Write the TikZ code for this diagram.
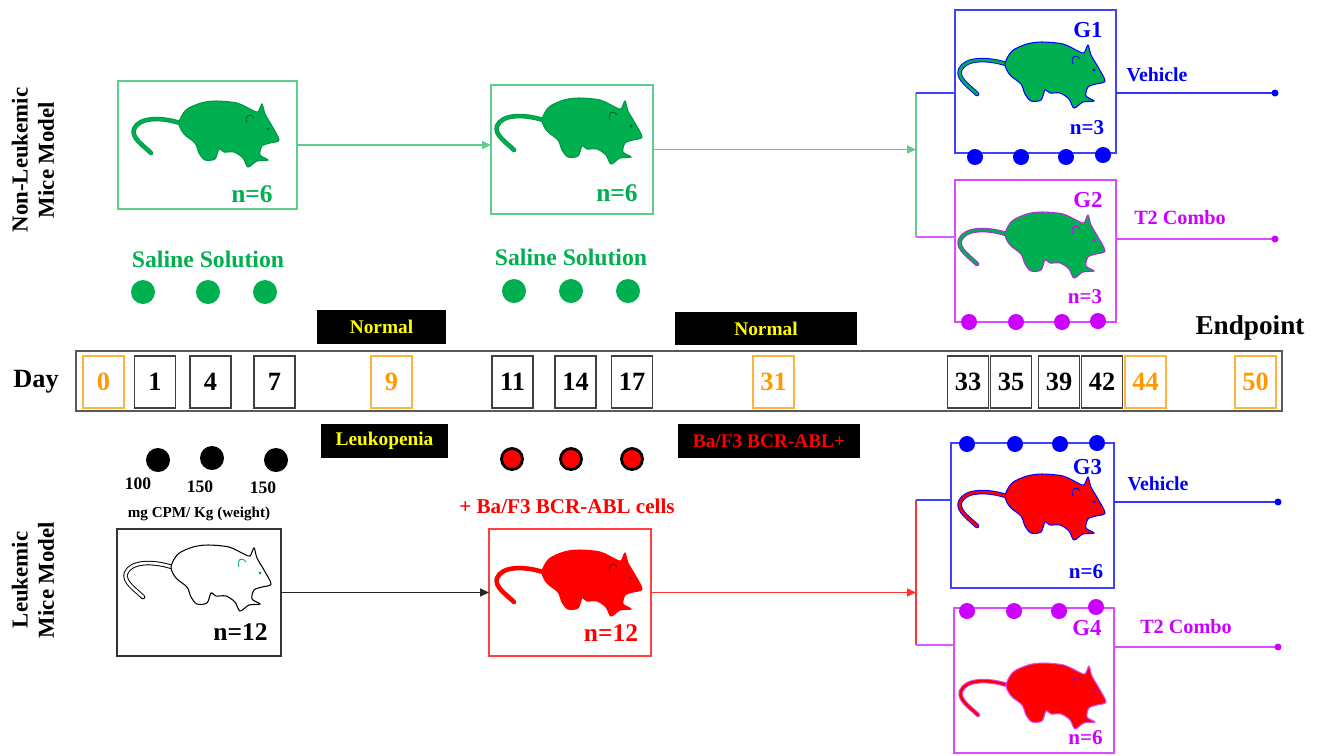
\documentclass[tikz,border=0pt]{standalone}
\usepackage{fontspec}
\setmainfont{Liberation Serif}
\usetikzlibrary{arrows.meta,positioning,calc}
\definecolor{micegreen}{RGB}{0,176,80}
\definecolor{lightgreen}{RGB}{96,204,140}
\definecolor{groupblue}{RGB}{0,0,255}
\definecolor{groupviolet}{RGB}{204,0,255}
\definecolor{dayorange}{RGB}{255,153,0}
\definecolor{labelyellow}{RGB}{255,255,0}

% tail of the mouse silhouette (drawn twice: outline, then fill colour)
\newcommand{\mousetail}{(-27,-8) .. controls (-46,-14) and (-68,-14) .. (-73,-2) .. controls (-76,7) and (-63,15) .. (-56,22)}

\tikzset{
  pics/mouse/.style n args={3}{code={
    \draw[#2, line width=2.6pt, line cap=round] \mousetail;
    \draw[#1, line width=1.5pt, line cap=round] \mousetail;
    \filldraw[fill=#1, draw=#2, line width=0.6pt] plot[smooth cycle, tension=0.5] coordinates {
      (-28,-8) (-21,-21) (-6,-28) (9,-30) (30,-28) (45,-21) (51,-19) (55,-27) (58,-17)
      (65,-5) (72,9) (63,12) (55,15) (53,24) (61,29) (50,30) (41,36) (36,27) (27,21)
      (17,21) (12,18) (8,28) (-2,29) (-8,22) (-12,12) (-23,3)};
    \draw[#3, line width=0.5pt] (47,-13) .. controls (43,-19) and (37,-15) .. (40,-8);
    \fill[#3] (61,-2) circle (1.6);
  }},
}

\begin{document}
\begin{tikzpicture}[x=0.02cm, y=-0.02cm,
    every node/.style={font=\bfseries},
    txt/.style={font=\fontsize{#1}{15}\selectfont\bfseries},
    cage/.style={draw=#1, line width=0.8pt, inner sep=0pt, outer sep=0pt},
    daybox/.style={draw=#1!75, text=#1, line width=0.7pt, minimum width=0.82cm, minimum height=1.04cm, inner sep=0pt, txt=15},
    phase/.style={fill=black, text=labelyellow, minimum height=0.67cm, inner sep=0pt, txt=11},
    link/.style={line width=0.75pt},
    tip/.style={-{Triangle[length=5pt,width=4.5pt]}}]
    \fill[white] (0,0) rectangle (1318,755);
    \useasboundingbox (0,0) rectangle (1318,755);

    % model titles
    \node[txt=13, rotate=90, align=center] (nonleuk) at (33,160) {Non-Leukemic\\Mice Model};
    \node[txt=13, rotate=90, align=center] (leuk) at (33,580) {Leukemic\\Mice Model};

    % non-leukemic mice
    \node[cage=lightgreen, minimum width=3.58cm, minimum height=2.56cm] (a1) at (207.5,145) {};
    \pic at (207,131) {mouse={micegreen}{micegreen!85!black}{micegreen!60!black}};
    \node[txt=14.5, text=micegreen] (a1n) at (252,194) {n=6};

    \node[cage=lightgreen, minimum width=3.24cm, minimum height=2.58cm] (a2) at (572,149.5) {};
    \pic at (570,128) {mouse={micegreen}{micegreen!85!black}{micegreen!60!black}};
    \node[txt=14.5, text=micegreen] (a2n) at (617,193) {n=6};

    \node[cage=groupblue!75, minimum width=3.22cm, minimum height=2.86cm] (g1) at (1035.5,81.5) {};
    \pic at (1033,72) {mouse={micegreen}{groupblue}{groupblue}};
    \node[txt=13, text=groupblue] (g1t) at (1088,30) {G1};
    \node[txt=12, text=groupblue] (g1n) at (1087,128) {n=3};
    \foreach \x/\y in {975/157,1021/157,1066/157,1103/155} \fill[groupblue] (\x,\y) circle (8);

    \node[cage=groupviolet!70, minimum width=3.22cm, minimum height=2.84cm] (g2) at (1035.5,251) {};
    \pic at (1033,242) {mouse={micegreen}{groupviolet!70!gray}{groupviolet}};
    \node[txt=13, text=groupviolet] (g2t) at (1088,200) {G2};
    \node[txt=12, text=groupviolet] (g2n) at (1085,297) {n=3};
    \foreach \x/\y in {969/322,1016/322,1062/322,1098/321} \fill[groupviolet] (\x,\y) circle (8);

    % saline injections
    \node[txt=13.5, text=micegreen] (sal1) at (208,259) {Saline Solution};
    \node[txt=13.5, text=micegreen] (sal2) at (571,257) {Saline Solution};
    \foreach \x in {143,208,265} \fill[micegreen] (\x,292) circle (12);
    \foreach \x in {514,571,628} \fill[micegreen] (\x,291) circle (12);

    % phases
    \node[phase, minimum width=2.58cm] (norm1) at (381.5,327) {Normal};
    \node[phase, minimum width=3.64cm] (norm2) at (766,328.5) {Normal};
    \node[phase, minimum width=2.54cm] (leukop) at (384.5,441) {Leukopenia};
    \node[phase, minimum width=3.64cm, text=red] (baf3) at (769,441) {Ba/F3 BCR-ABL+};

    % time line
    \node[txt=15] (day) at (36,382) {Day};
    \node[draw=black!65, line width=0.8pt, minimum width=24.12cm, minimum height=1.2cm, inner sep=0pt] (timeline) at (679,381) {};
    \foreach \x/\d/\c in {103.5/0/dayorange, 155/1/black, 210.5/4/black, 274.5/7/black, 391.5/9/dayorange,
        512.5/11/black, 575.5/14/black, 632/17/black, 773.5/31/dayorange, 968/33/black,
        1011/35/black, 1059/39/black, 1102/42/black, 1145.5/44/dayorange, 1255.5/50/dayorange}
      \node[daybox=\c] (d\d) at (\x,382) {\d};
    \node[txt=15.5] (endpoint) at (1250,328) {Endpoint};

    % cyclophosphamide and cell injections
    \foreach \x/\y in {158/460,212/458,276/460} \fill (\x,\y) circle (12);
    \node[txt=10] (dose1) at (138,484) {100};
    \node[txt=10] (dose2) at (200,487) {150};
    \node[txt=10] (dose3) at (263,488) {150};
    \node[txt=8.6] (units) at (199,514) {mg CPM/ Kg (weight)};
    \foreach \x in {512,571,632} \filldraw[fill=red, draw=black, line width=1.6pt] (\x,459) circle (10.5);
    \node[txt=12, text=red] (cells) at (567,506) {+ Ba/F3 BCR-ABL cells};

    % leukemic mice
    \node[cage=black!80, minimum width=3.28cm, minimum height=2.54cm] (b1) at (199,592.5) {};
    \pic at (199,575) {mouse={white}{black}{micegreen}};
    \node[txt=14.5] (b1n) at (240.5,632) {n=12};

    \node[cage=red!75, minimum width=3.24cm, minimum height=2.54cm] (b2) at (570,592.5) {};
    \pic at (570,580) {mouse={red}{red}{red!60!black}};
    \node[txt=14.5, text=red] (b2n) at (611,633) {n=12};

    \node[cage=groupblue!75, minimum width=3.26cm, minimum height=2.9cm] (g3) at (1032.5,515.5) {};
    \pic at (1033,504) {mouse={red}{groupblue}{groupblue}};
    \node[txt=13, text=groupblue] (g3t) at (1087.5,467) {G3};
    \node[txt=12, text=groupblue] (g3n) at (1086,572) {n=6};
    \foreach \x/\y in {967/444,1015/444,1060/444,1097/443} \fill[groupblue] (\x,\y) circle (8);

    \node[cage=groupviolet!70, minimum width=3.2cm, minimum height=2.9cm] (g4) at (1034,680.5) {};
    \pic at (1034,693) {mouse={red}{groupviolet!70}{groupviolet!60!blue}};
    \node[txt=13, text=groupviolet] (g4t) at (1087,628) {G4};
    \node[txt=12, text=groupviolet] (g4n) at (1085.5,738) {n=6};
    \foreach \x/\y in {967/611,1014/611,1059/611,1096/607} \fill[groupviolet] (\x,\y) circle (8);

    % treatments
    \node[txt=11.3, text=groupblue] (veh1) at (1157,75) {Vehicle};
    \node[txt=11.5, text=groupviolet] (combo1) at (1180,218) {T2 Combo};
    \node[txt=11.3, text=groupblue] (veh2) at (1158,484) {Vehicle};
    \node[txt=11.5, text=groupviolet] (combo2) at (1186,627) {T2 Combo};

    % connectors, upper branch
    \coordinate (ja) at (916,150);
    \coordinate (ja1) at (916,93);
    \coordinate (ja2) at (916,237);
    \draw[link, lightgreen, tip] (a1.east) -- (a1.east -| a2.west);
    \draw[link, lightgreen, tip] (a2.east) -- (a2.east -| ja);
    \draw[link, lightgreen] (ja1) -- (ja2);
    \draw[link, groupblue!75] (ja1) -- (ja1 -| g1.west);
    \draw[link, groupviolet!65] (ja2) -- (ja2 -| g2.west);

    \coordinate (e1) at (1275,93);
    \coordinate (e2) at (1275,239);
    \draw[link, groupblue!80] (e1 -| g1.east) -- (e1);
    \fill[groupblue] (e1) circle (3.5);
    \draw[link, groupviolet!70] (e2 -| g2.east) -- (e2);
    \fill[groupviolet] (e2) circle (3.5);

    % connectors, lower branch
    \coordinate (jb) at (916,591);
    \coordinate (jb1) at (916,500);
    \coordinate (jb2) at (916,645);
    \draw[link, black!85, tip] (b1.east) -- (b1.east -| b2.west);
    \draw[link, red!80, tip] (b2.east) -- (b2.east -| jb);
    \draw[link, red!80] (jb1) -- (jb2);
    \draw[link, groupblue!75] (jb1) -- (jb1 -| g3.west);
    \draw[link, groupviolet!65] (jb2) -- (jb2 -| g4.west);

    \coordinate (e3) at (1278,502);
    \coordinate (e4) at (1278,647);
    \draw[link, groupblue!80] (e3 -| g3.east) -- (e3);
    \fill[groupblue] (e3) circle (3.5);
    \draw[link, groupviolet!70] (e4 -| g4.east) -- (e4);
    \fill[groupviolet] (e4) circle (3.5);
\end{tikzpicture}
\end{document}
